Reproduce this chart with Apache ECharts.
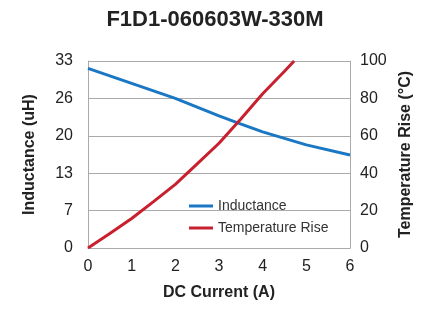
<!DOCTYPE html>
<html><head><meta charset="utf-8">
<script src="https://cdn.jsdelivr.net/npm/echarts@6/dist/echarts.min.js"></script>
<style>html,body{margin:0;padding:0;background:#fff}#c{width:430px;height:309px}</style>
</head><body><div id="c"></div>
<script>
const title = 'F1D1-060603W-330M';
const inductanceCurrent = [0, 1, 2, 3, 3.46, 4, 5, 6];
const inductanceValues = [31.7, 29.05, 26.4, 23.3, 22.0, 20.5, 18.2, 16.4];
const tempCurrent = [0, 0.5, 1, 1.5, 2, 2.5, 3, 3.5, 4, 4.5, 4.72];
const tempValues = [0, 7.7, 15.8, 24.8, 34, 45, 56, 69, 82.5, 94.5, 100];
const xTicks = [0, 1, 2, 3, 4, 5, 6];
const leftTicks = [0, 7, 13, 20, 26, 33];
const rightTicks = [0, 20, 40, 60, 80, 100];

const font = '"Liberation Sans", Arial, sans-serif';
const gray = '#aaaaaa';
const blue = '#1a77c4';
const red = '#c8202f';
const chart = echarts.init(document.getElementById('c'), null, {renderer: 'canvas'});
chart.setOption({
  animation: false,
  title: {text: title, left: 'center', top: 4,
    textStyle: {fontFamily: font, fontWeight: 'bold', fontSize: 22, color: '#222'}},
  grid: {left: 88, right: 80, top: 61, bottom: 61, show: false},
  legend: {
    orient: 'vertical', left: 184, top: 194, itemWidth: 24, itemHeight: 3, itemGap: 8,
    textStyle: {fontFamily: font, fontSize: 14, color: '#333', lineHeight: 14},
    data: [{name: 'Inductance', icon: 'rect', itemStyle: {color: blue}},
           {name: 'Temperature Rise', icon: 'rect', itemStyle: {color: red}}],
  },
  xAxis: {
    type: 'value', min: 0, max: 6, interval: 1,
    name: 'DC Current (A)', nameLocation: 'middle', nameGap: 37,
    nameTextStyle: {fontFamily: font, fontWeight: 'bold', fontSize: 16, color: '#222'},
    axisLine: {show: true, lineStyle: {color: gray}},
    axisTick: {show: false}, splitLine: {show: false},
    axisLabel: {fontFamily: font, fontSize: 16, color: '#222', margin: 11,
      formatter: v => xTicks.includes(v) ? String(v) : ''}
  },
  yAxis: [{
    type: 'value', min: 0, max: 33, interval: 6.6, position: 'left',
    name: 'Inductance (uH)', nameLocation: 'middle', nameGap: 50,
    nameTextStyle: {fontFamily: font, fontWeight: 'bold', fontSize: 16, color: '#222'},
    axisLine: {show: true, lineStyle: {color: gray}},
    axisTick: {show: false},
    splitLine: {show: true, lineStyle: {color: gray, width: 1}},
    axisLabel: {fontFamily: font, fontSize: 16, color: '#222', margin: 15,
      formatter: (v) => String(leftTicks[Math.round(v / 6.6)])}
  }, {
    type: 'value', min: 0, max: 100, interval: 20, position: 'right',
    name: 'Temperature Rise (°C)', nameLocation: 'middle', nameGap: 45,
    nameTextStyle: {fontFamily: font, fontWeight: 'bold', fontSize: 16, color: '#222'},
    axisLine: {show: true, lineStyle: {color: gray}},
    axisTick: {show: false}, splitLine: {show: false},
    axisLabel: {fontFamily: font, fontSize: 16, color: '#222', margin: 10,
      formatter: v => rightTicks.includes(v) ? String(v) : ''}
  }],
  series: [{
    name: 'Inductance', type: 'line', yAxisIndex: 0, showSymbol: false, smooth: false,
    lineStyle: {color: blue, width: 3}, itemStyle: {color: blue},
    data: inductanceCurrent.map((x, i) => [x, inductanceValues[i]])
  }, {
    name: 'Temperature Rise', type: 'line', yAxisIndex: 1, showSymbol: false, smooth: false,
    lineStyle: {color: red, width: 3}, itemStyle: {color: red},
    data: tempCurrent.map((x, i) => [x, tempValues[i]])
  }]
});
</script></body></html>
